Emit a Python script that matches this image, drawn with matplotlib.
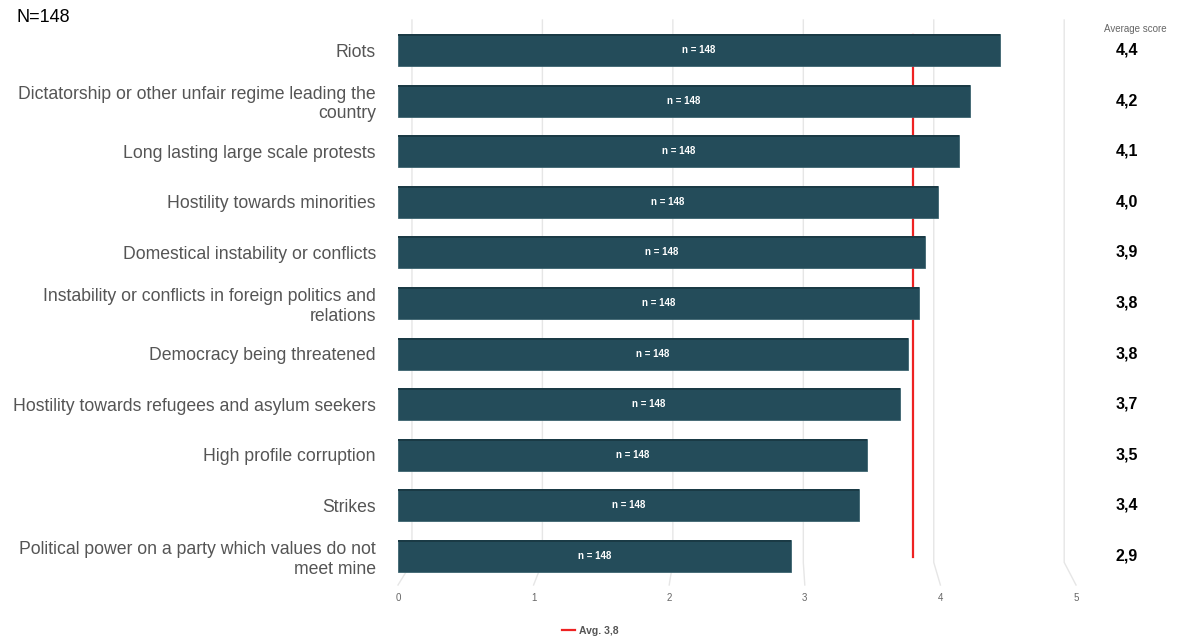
import numpy as np
import matplotlib
matplotlib.use('Agg')
import matplotlib.pyplot as plt
from matplotlib.transforms import blended_transform_factory

plt.rcParams['font.family'] = ['Liberation Sans', 'DejaVu Sans']

categories = [
    'Riots',
    'Dictatorship or other unfair regime leading the\ncountry',
    'Long lasting large scale protests',
    'Hostility towards minorities',
    'Domestical instability or conflicts',
    'Instability or conflicts in foreign politics and\nrelations',
    'Democracy being threatened',
    'Hostility towards refugees and asylum seekers',
    'High profile corruption',
    'Strikes',
    'Political power on a party which values do not\nmeet mine',
]
scores = [4.44, 4.22, 4.14, 3.98, 3.89, 3.84, 3.76, 3.70, 3.46, 3.40, 2.90]
counts = [148] * len(categories)
overall_avg = 3.8
total_n = 148
ticks = [0, 1, 2, 3, 4, 5]

bar_color = '#244c5a'
top_color = '#1a3a45'
grid_color = '#e6e6e6'

fig = plt.figure(figsize=(11.78, 6.38), dpi=100)
ax = fig.add_axes([398 / 1178, 53 / 638, 678 / 1178, 565 / 638])

y = np.arange(len(categories))
ax.set_xlim(0, 5)
ax.set_ylim(10.573, -0.593)

# grid: back wall lines with a short slanted floor segment
xt = ax.get_xaxis_transform()
for t in ticks:
    back = 0.103 + 0.962 * t
    ax.plot([back, back, t], [1.0, 0.04, 0.0], color=grid_color, lw=1,
            transform=xt, zorder=0, clip_on=False)

# average line behind the bars
ax.plot([overall_avg, overall_avg], [-0.3, 10.02], color='#ee2222', lw=1.6, zorder=1)

h = 0.63
ax.barh(y, scores, height=h, color=bar_color, edgecolor='#3d6470', linewidth=0.6, zorder=2)
# darker top face
ax.barh(y - h / 2 + 0.02, scores, height=0.04, color=top_color, linewidth=0, zorder=3)

for yi, s, n in zip(y, scores, counts):
    ax.text(s / 2, yi, f'n = {n}', color='white', ha='center', va='center',
            fontsize=7, fontweight='bold', zorder=4)

ax.set_yticks(y)
ax.set_yticklabels(categories, fontsize=12.7, color='#555555', linespacing=1.2)
ax.tick_params(axis='y', length=0, pad=16)
ax.set_xticks(ticks)
ax.set_xticklabels([str(t) for t in ticks], fontsize=7, color='#666666')
ax.tick_params(axis='x', length=0, pad=6)
for sp in ax.spines.values():
    sp.set_visible(False)

# average score column
tr = blended_transform_factory(fig.transFigure, ax.transData)
for yi, s in zip(y, scores):
    ax.text(1127 / 1178, yi, f'{s:.1f}'.replace('.', ','), transform=tr,
            ha='center', va='center', fontsize=11.5, fontweight='bold', color='black')
fig.text(1135 / 1178, 1 - 29 / 638, 'Average score', ha='center', va='center',
         fontsize=7, color='#666666')

fig.text(17 / 1178, 1 - 18 / 638, f'N={total_n}', ha='left', va='center',
         fontsize=13, color='black')

# legend
ax.plot([], [], color='#ee2222', lw=1.6, label='Avg. ' + f'{overall_avg:.1f}'.replace('.', ','))
leg = fig.legend(loc='center', bbox_to_anchor=(590 / 1178, 1 - 631 / 638), frameon=False,
                 fontsize=7.5, handlelength=1.3, handletextpad=0.3)
for txt in leg.get_texts():
    txt.set_color('#555555')
    txt.set_fontweight('bold')

fig.savefig('out.png', dpi=100)
